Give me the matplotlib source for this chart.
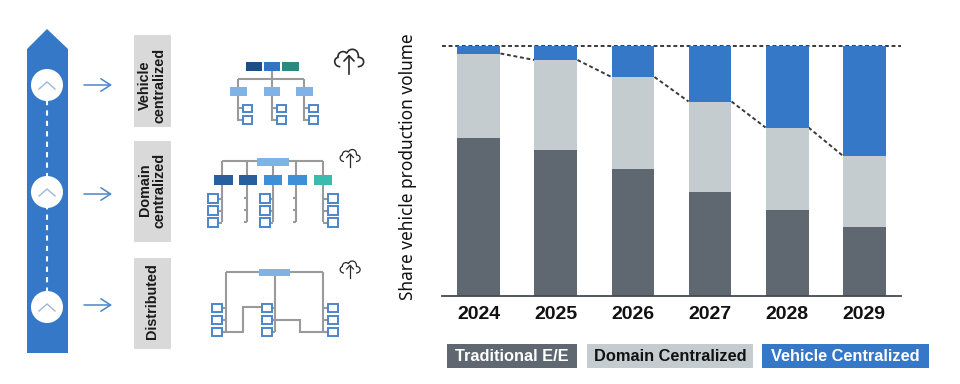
import matplotlib
matplotlib.use("Agg")
import matplotlib.pyplot as plt
from matplotlib.patches import Rectangle, Polygon, Circle, PathPatch
from matplotlib.path import Path

plt.rcParams['font.family'] = ['Noto Sans', 'DejaVu Sans']
BOLD = ['Liberation Sans', 'DejaVu Sans']

years = ['2024', '2025', '2026', '2027', '2028', '2029']
traditional = [63.2, 58.4, 51.0, 41.6, 34.6, 27.6]
domain = [33.8, 36.0, 36.6, 36.2, 32.8, 28.6]
vehicle = [3.0, 5.6, 12.4, 22.2, 32.6, 43.8]
series_names = ['Traditional E/E', 'Domain Centralized', 'Vehicle Centralized']
stage_labels = ['Vehicle\ncentralized', 'Domain\ncentralized', 'Distributed']

C_TRAD, C_DOM, C_VEH = '#5f6770', '#c5cccf', '#3678c8'
C_LINE = '#9a9a9a'
C_SMALL = '#4a86cc'
C_ARROW = '#4a86c8'

W, H = 960, 384
fig = plt.figure(figsize=(9.6, 3.84), dpi=100, facecolor='white')

# overlay in pixel coordinates for the schematic
ov = fig.add_axes([0, 0, 1, 1], zorder=0)
ov.set_xlim(0, W); ov.set_ylim(H, 0); ov.axis('off')

# main chart
ax = fig.add_axes([442/W, (H-296)/H, (901-442)/W, 250/H], zorder=1)
ax.patch.set_alpha(0)
ax.set_xlim(-0.48, 5.48); ax.set_ylim(0, 100)
x = list(range(len(years)))
bw = 0.558
bot2 = [a+b for a, b in zip(traditional, domain)]
ax.bar(x, traditional, bw, color=C_TRAD, zorder=2)
ax.bar(x, domain, bw, bottom=traditional, color=C_DOM, zorder=2)
ax.bar(x, vehicle, bw, bottom=bot2, color=C_VEH, zorder=2)
ax.axhline(100, color='#3a3a3a', lw=1.4, ls=(0, (2.0, 1.4)), zorder=1, clip_on=False)
for i in range(len(x)-1):
    ax.plot([x[i]+bw/2, x[i+1]-bw/2], [bot2[i], bot2[i+1]], color='#3a3a3a',
            lw=1.4, ls=(0, (2.0, 1.4)), zorder=1)
for s in ['top', 'right', 'left']:
    ax.spines[s].set_visible(False)
ax.spines['bottom'].set_color('#444a50'); ax.spines['bottom'].set_linewidth(1.3)
ax.set_yticks([])
ax.set_xticks(x, years, fontweight='bold', fontsize=14, color='#111111', family=BOLD)
ax.tick_params(axis='x', length=0, pad=7)
ax.set_ylabel('Share vehicle production volume', fontsize=12.4, color='#111111', labelpad=0)
ax.yaxis.set_label_coords((417-442)/(901-442), (296-167)/250)

# legend chips
chips = [(447, 577, C_TRAD, 'white'), (587, 753, C_DOM, '#111111'), (762, 929, C_VEH, 'white')]
for (x0, x1, c, tc), name in zip(chips, series_names):
    ov.add_patch(Rectangle((x0, 344), x1-x0, 24, color=c, lw=0))
    ov.text((x0+x1)/2, 356.5, name, ha='center', va='center', fontsize=11.8,
            fontweight='bold', color=tc, family=BOLD)

# big arrow
ov.add_patch(Polygon([(27, 353), (27, 49), (47, 29), (68, 49), (68, 353)], closed=True,
                     color=C_VEH, lw=0))
ov.plot([47, 47], [100, 295], color='white', lw=1.5, ls=(0, (2.5, 2.5)))
for cy, ya in zip([85, 192, 307], [85, 194, 305]):
    ov.add_patch(Circle((47, cy), 16, color='white', lw=0, zorder=3))
    ov.plot([39, 47, 55], [cy+4, cy-3, cy+4], color='#9db8d8', lw=1, zorder=4)
    ov.annotate('', xy=(112, ya), xytext=(84, ya),
                arrowprops=dict(arrowstyle='->,head_length=0.7,head_width=0.45',
                                color=C_ARROW, lw=1.1, shrinkA=0, shrinkB=0))

# grey stage boxes
for (y0, y1), tc, lab in zip([(35, 127), (141, 242), (258, 349)], [85, 190, 301.5], stage_labels):
    ov.add_patch(Rectangle((133.5, y0), 37.5, y1-y0, color='#d9d9d9', lw=0))
    ov.text(152.2, tc, lab, rotation=90, ha='center', va='center', fontsize=10.4,
            fontweight='bold', color='#1a1a1a', linespacing=1.05, multialignment='center',
            family=BOLD)

def line(xs, ys):
    ov.plot(xs, ys, color=C_LINE, lw=1.5, solid_capstyle='butt', solid_joinstyle='miter', zorder=1)

def box(x0, y0, x1, y1, c):
    ov.add_patch(Rectangle((x0, y0), x1-x0, y1-y0, color=c, lw=0, zorder=2))

def small(x0, y0, x1, y1):
    ov.add_patch(Rectangle((x0, y0), x1-x0, y1-y0, fc='white', ec=C_SMALL, lw=1.4, zorder=2))

# vehicle-centralized diagram
line([272, 272], [70, 79]); line([238, 304], [79, 79])
for c, (a, b) in zip(['#1f4e85', '#2f74c6', '#2a8a80'], [(245.5, 262), (264, 280), (282, 298.5)]):
    box(a, 61.5, b, 70.5, c)
for tx, (a, b), sx in zip([238, 272, 304], [(230, 247), (264, 280), (296, 313)], [243, 277, 309]):
    line([tx, tx, sx], [79, 120, 120]); line([tx, sx], [108, 108])
    box(a, 87, b, 96, '#7fb3e6')
    small(sx, 104.7, sx+9, 112); small(sx, 116, sx+9, 124)

# domain-centralized diagram
line([222, 323], [161, 161])
dom_cols = [('#2a5f9e', 214, 233, 222), ('#2a5f9e', 239, 257, 247), ('#3f8fd6', 264, 282, 272.5),
            ('#3f8fd6', 288, 307, 296), ('#3dbab0', 314, 332, 323)]
for c, a, b, tx in dom_cols:
    line([tx, tx], [161, 222])
    box(a, 175, b, 185, c)
box(257, 158, 289, 166, '#7fb3e6')
for tx in [247, 296]:
    for yy in [198, 210, 222]:
        line([tx-3, tx], [yy, yy])
for tx, sx in [(222, 208), (272.5, 260), (323, 328)]:
    for y0, y1 in [(194, 203), (206, 215), (218, 227)]:
        line([tx, sx+5], [(y0+y1)/2]*2)
        small(sx, y0, sx+10, y1)

# distributed diagram
line([225.5, 225.5], [331.7, 272]); line([225.5, 323], [272, 272])
line([323, 323], [272, 331.7]); line([275, 275], [272, 331.7])
line([221, 243, 243, 262], [331.7, 331.7, 307, 307])
line([272, 300, 300, 328], [319.5, 319.5, 331.7, 331.7])
box(259, 269, 290, 276, '#7fb3e6')
for tx, sx in [(225.5, 212), (275, 262), (323, 328)]:
    for y0, y1 in [(304, 312), (316, 324), (328, 336)]:
        line([tx, sx+5], [(y0+y1)/2]*2)
        small(sx, y0, sx+9.5, y1)

# cloud upload icons
CLOUD = [(-0.30, 0.30), (-0.52, 0.30), (-0.56, 0.02), (-0.38, -0.02),
         (-0.40, -0.22), (-0.16, -0.28), (-0.08, -0.16),
         (0.02, -0.40), (0.36, -0.32), (0.32, -0.02),
         (0.56, -0.04), (0.58, 0.30), (0.30, 0.30)]
CODES = [Path.MOVETO] + [Path.CURVE4]*12
def cloud(cx, cy, w, lw):
    verts = [(cx+px*w, cy+py*w) for px, py in CLOUD]
    ov.add_patch(PathPatch(Path(verts, CODES), fc='none', ec='#2a2a2a', lw=lw, zorder=2))
    ov.add_patch(Rectangle((cx-w*0.14, cy+w*0.26), w*0.28, w*0.08, color='white', lw=0, zorder=3))
    ov.plot([cx, cx], [cy+w*0.55, cy-w*0.08], color='#2a2a2a', lw=lw, zorder=4)
    ov.plot([cx-w*0.17, cx, cx+w*0.17], [cy+w*0.1, cy-w*0.08, cy+w*0.1], color='#2a2a2a', lw=lw, zorder=4)

cloud(349, 58, 29, 1.2)
cloud(350, 155.5, 20, 0.9)
cloud(350, 267, 20, 0.9)

fig.savefig('out.png', dpi=100)
